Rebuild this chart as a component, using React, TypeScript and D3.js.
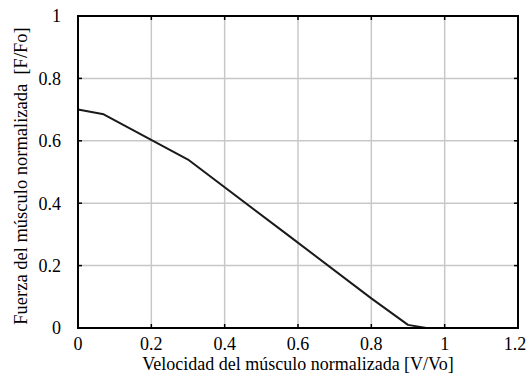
import React, { useRef, useEffect } from 'react'
import * as d3 from 'd3'

// Normalized muscle force vs velocity
const velocity = [0, 0.07, 0.3, 0.57, 0.8, 0.9, 0.95]
const force = [0.7, 0.685, 0.54, 0.3, 0.095, 0.01, 0]

const xTicks = [0, 0.2, 0.4, 0.6, 0.8, 1, 1.2]
const yTicks = [0, 0.2, 0.4, 0.6, 0.8, 1]

const xLabel = 'Velocidad del músculo normalizada [V/Vo]'
const yLabel = 'Fuerza del músculo normalizada\u00a0\u00a0[F/Fo]'

const width = 526
const height = 376
const margin = { top: 16, right: 8, bottom: 48, left: 78 }
const font = 'Liberation Serif'

const App: React.FC = () => {
  const svgRef = useRef<SVGSVGElement>(null)

  useEffect(() => {
    if (!svgRef.current) return
    const svg = d3.select(svgRef.current)
    svg.selectAll('*').remove()

    const x = d3.scaleLinear().domain([0, 1.2]).range([margin.left, width - margin.right])
    const y = d3.scaleLinear().domain([0, 1]).range([height - margin.bottom, margin.top])

    // grid
    const grid = svg.append('g').attr('stroke', '#c8c8c8').attr('stroke-width', 1.5)
    xTicks.slice(1, -1).forEach(t => {
      grid.append('line').attr('x1', x(t)).attr('x2', x(t)).attr('y1', y(0)).attr('y2', y(1))
    })
    yTicks.slice(1, -1).forEach(t => {
      grid.append('line').attr('x1', x(0)).attr('x2', x(1.2)).attr('y1', y(t)).attr('y2', y(t))
    })

    // inward ticks on all four sides
    const tickLen = 4
    const ticks = svg.append('g').attr('stroke', '#000').attr('stroke-width', 1.5)
    xTicks.forEach(t => {
      ticks.append('line').attr('x1', x(t)).attr('x2', x(t)).attr('y1', y(0)).attr('y2', y(0) - tickLen)
      ticks.append('line').attr('x1', x(t)).attr('x2', x(t)).attr('y1', y(1)).attr('y2', y(1) + tickLen)
    })
    yTicks.forEach(t => {
      ticks.append('line').attr('x1', x(0)).attr('x2', x(0) + tickLen).attr('y1', y(t)).attr('y2', y(t))
      ticks.append('line').attr('x1', x(1.2)).attr('x2', x(1.2) - tickLen).attr('y1', y(t)).attr('y2', y(t))
    })

    // curve
    const line = d3
      .line<number>()
      .x((_d, i) => x(velocity[i]))
      .y(d => y(d))
    svg
      .append('path')
      .datum(force)
      .attr('d', line)
      .attr('fill', 'none')
      .attr('stroke', '#1a1a1a')
      .attr('stroke-width', 2)
      .attr('stroke-linejoin', 'round')

    // frame
    svg
      .append('rect')
      .attr('x', x(0))
      .attr('y', y(1))
      .attr('width', x(1.2) - x(0))
      .attr('height', y(0) - y(1))
      .attr('fill', 'none')
      .attr('stroke', '#000')
      .attr('stroke-width', 2)

    // tick labels
    svg
      .append('g')
      .selectAll('text')
      .data(xTicks)
      .enter()
      .append('text')
      .attr('x', d => x(d) - (d === 1.2 ? 3 : 0))
      .attr('y', y(0) + 22)
      .attr('text-anchor', 'middle')
      .attr('font-family', font)
      .attr('font-size', 18)
      .text(d => String(d))

    svg
      .append('g')
      .selectAll('text')
      .data(yTicks)
      .enter()
      .append('text')
      .attr('x', x(0) - 17)
      .attr('y', d => y(d))
      .attr('dy', '0.35em')
      .attr('text-anchor', 'end')
      .attr('font-family', font)
      .attr('font-size', 18)
      .text(d => String(d))

    // axis titles
    svg
      .append('text')
      .attr('x', (x(0) + x(1.2)) / 2)
      .attr('y', height - 6)
      .attr('text-anchor', 'middle')
      .attr('font-family', font)
      .attr('font-size', 18)
      .text(xLabel)

    svg
      .append('text')
      .attr('transform', `translate(27, ${(y(0) + y(1)) / 2 + 4}) rotate(-90)`)
      .attr('text-anchor', 'middle')
      .attr('font-family', font)
      .attr('font-size', 18.5)
      .text(yLabel)
  }, [])

  return (
    <div style={{ position: 'absolute', left: 0, top: 0, background: '#fff', width, height }}>
      <svg ref={svgRef} width={width} height={height} fontFamily={font} style={{ display: 'block' }} />
    </div>
  )
}

export default App
